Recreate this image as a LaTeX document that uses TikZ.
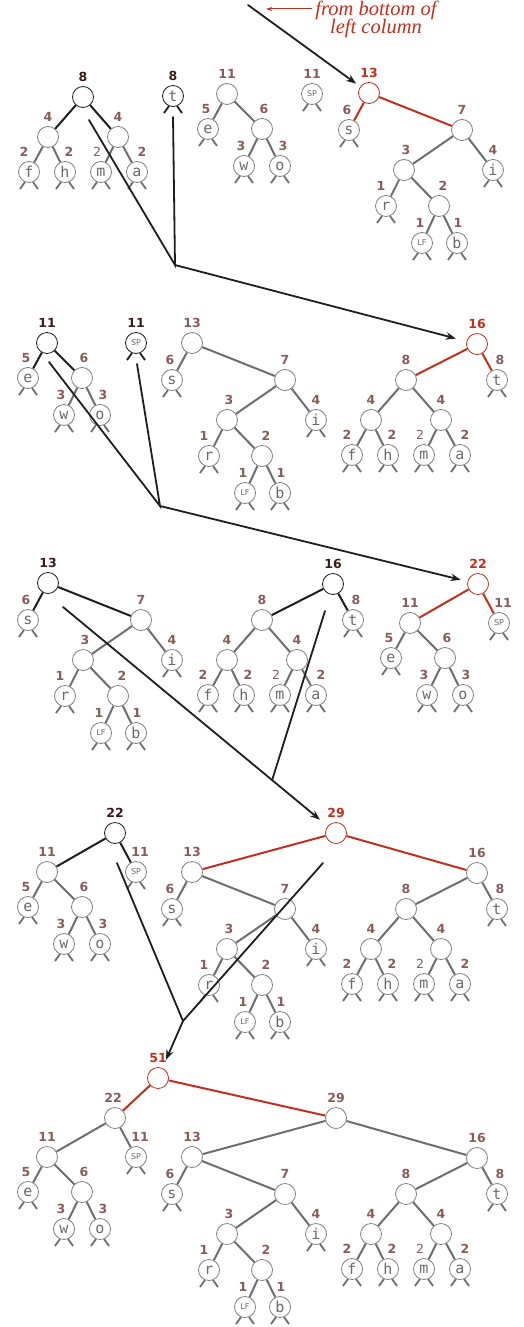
\documentclass[tikz,border=0pt]{standalone}
\usepackage{fontspec}
\setmainfont{Liberation Serif}
\newfontfamily\monof{DejaVu Sans Mono}
\newfontfamily\numf{DejaVu Sans}
\usetikzlibrary{arrows.meta,calc}
\definecolor{ng}{HTML}{808080}
\definecolor{eg}{HTML}{6E6E6E}
\definecolor{lg}{HTML}{6A6A6A}
\definecolor{wc}{HTML}{875C5C}
\definecolor{dk}{HTML}{3A1C1C}
\definecolor{rd}{HTML}{C0301E}
\definecolor{bk}{HTML}{1E1E1E}
\newcommand\smc{\numf\fontsize{8}{8}\selectfont}
\tikzset{
 nd/.style={circle,draw=ng,fill=white,line width=0.8pt,minimum size=21pt,inner sep=0pt,text=lg,font=\monof\fontsize{15}{15}\selectfont},
 ge/.style={draw=eg,line width=2pt},
 re/.style={draw=rd,line width=2pt},
 be/.style={draw=bk,line width=2pt},
 wl/.style={text=wc,font=\numf\bfseries\fontsize{12.5}{12.5}\selectfont,inner sep=0pt},
 wlr/.style={wl,text=rd},
 wld/.style={wl,text=dk},
 gst/.style={draw=eg,line width=1.8pt},
 bst/.style={draw=bk,line width=1.8pt},
 arr/.style={draw=bk,line width=1.8pt,line cap=round},
 tip/.style={-{Stealth[length=10pt,width=7.5pt]}},
 note/.style={text=rd,font=\itshape\fontsize{20.5}{20.5}\selectfont,inner sep=0pt,anchor=base},
}
\newcommand\W[4][wl]{\node[#1] at ([shift={(#3,-20)}]#2.center) {#4};}
\newcommand\St[2][gst]{\draw[#1] ([shift={(-4,10)}]#2.center) -- ++(-5,7);\draw[#1] ([shift={(4,10)}]#2.center) -- ++(5,7);}
\newcommand\Lf[7]{\node[nd] (#1) at ([shift={(#3,#4)}]#2.center) {#5};\St{#1}\W{#1}{#6}{#7}}
\newcommand\In[6]{\node[nd] (#1) at ([shift={(#3,#4)}]#2.center) {};\W{#1}{#5}{#6}}
\newcommand\Ed[3][ge]{\draw[#1] (#2) -- (#3);}
\newcommand\mkA[2]{%
 \In{#1L}{#1}{-35}{40}{0}{4}
 \In{#1R}{#1}{35}{40}{0}{4}
 \Lf{#1f}{#1L}{-19}{35}{f}{-5}{2}
 \Lf{#1h}{#1L}{17}{35}{h}{4}{2}
 \Lf{#1m}{#1R}{-17}{35}{m}{-4}{\mdseries 2}
 \Lf{#1a}{#1R}{19}{35}{a}{5}{2}
 \Ed[#2]{#1}{#1L}\Ed[#2]{#1}{#1R}
 \Ed{#1L}{#1f}\Ed{#1L}{#1h}\Ed{#1R}{#1m}\Ed{#1R}{#1a}}
\newcommand\mkB[2]{%
 \Lf{#1e}{#1}{-19}{35}{e}{-2}{5}
 \In{#1x}{#1}{35}{35}{2}{6}
 \Lf{#1w}{#1x}{-18}{37}{w}{-3}{3}
 \Lf{#1o}{#1x}{18}{37}{o}{3}{3}
 \Ed[#2]{#1}{#1e}\Ed[#2]{#1}{#1x}
 \Ed{#1x}{#1w}\Ed{#1x}{#1o}}
\newcommand\mkC[2]{%
 \Lf{#1s}{#1}{-20}{37}{s}{-2}{6}
 \In{#1x}{#1}{93}{37}{0}{7}
 \In{#1y}{#1x}{-58}{40}{2}{3}
 \Lf{#1i}{#1x}{31}{40}{i}{0}{4}
 \Lf{#1r}{#1y}{-18}{36}{r}{-5}{1}
 \In{#1z}{#1y}{35}{36}{4}{2}
 \Lf{#1lf}{#1z}{-17}{37}{\smc LF}{-2}{1}
 \Lf{#1b}{#1z}{18}{37}{b}{1}{1}
 \Ed[#2]{#1}{#1s}\Ed[#2]{#1}{#1x}
 \Ed{#1x}{#1y}\Ed{#1x}{#1i}\Ed{#1y}{#1r}\Ed{#1y}{#1z}\Ed{#1z}{#1lf}\Ed{#1z}{#1b}}
\newcommand\mkD[2]{%
 \In{#1x}{#1}{-71}{36}{0}{8}
 \Lf{#1t}{#1}{20}{36}{t}{3}{8}
 \mkA{#1x}{ge}
 \Ed[#2]{#1}{#1x}\Ed[#2]{#1}{#1t}}
\newcommand\mkE[2]{%
 \In{#1x}{#1}{-68}{39}{0}{11}
 \Lf{#1sp}{#1}{21}{39}{\smc SP}{4}{11}
 \mkB{#1x}{ge}
 \Ed[#2]{#1}{#1x}\Ed[#2]{#1}{#1sp}}
\newcommand\mkF[2]{%
 \In{#1p}{#1}{-144}{39}{0}{13}
 \In{#1q}{#1}{141}{40}{0}{16}
 \mkC{#1p}{ge}\mkD{#1q}{ge}
 \Ed[#2]{#1}{#1p}\Ed[#2]{#1}{#1q}}
\begin{document}
\begin{tikzpicture}[x=1pt,y=-1pt]
\fill[white] (0,0) rectangle (523,1327);
\useasboundingbox (0,0) rectangle (523,1327);
% ---------- panel 1
\node[nd,draw=bk] (PaA) at (83,97) {}; \W[wld]{PaA}{0}{8} \mkA{PaA}{be}
\node[nd,draw=bk] (Pat) at (173,96) {t}; \St[bst]{Pat} \W[wld]{Pat}{0}{8}
\node[nd] (PaB) at (227,94) {}; \W{PaB}{0}{11} \mkB{PaB}{ge}
\node[nd] (Pasp) at (312,94) {\smc SP}; \St{Pasp} \W{Pasp}{0}{11}
\node[nd,draw=rd] (PaC) at (369,93) {}; \W[wlr]{PaC}{0}{13} \mkC{PaC}{re}
% ---------- panel 2
\node[nd,draw=bk] (PbB) at (47,343) {}; \W[wld]{PbB}{0}{11} \mkB{PbB}{be}
\node[nd,draw=bk] (Pbsp) at (136,343) {\smc SP}; \St[bst]{Pbsp} \W[wld]{Pbsp}{0}{11}
\node[nd] (PbC) at (192,343) {}; \W{PbC}{0}{13} \mkC{PbC}{ge}
\node[nd,draw=rd] (PbD) at (477,344) {}; \W[wlr]{PbD}{0}{16} \mkD{PbD}{re}
% ---------- panel 3
\node[nd,draw=bk] (PcC) at (48,583) {}; \W[wld]{PcC}{0}{13} \mkC{PcC}{be}
\node[nd,draw=bk] (PcD) at (333,584) {}; \W[wld]{PcD}{0}{16} \mkD{PcD}{be}
\node[nd,draw=rd] (PcE) at (478,584) {}; \W[wlr]{PcE}{0}{22} \mkE{PcE}{re}
% ---------- panel 4
\node[nd,draw=bk] (PdE) at (115,833) {}; \W[wld]{PdE}{0}{22} \mkE{PdE}{be}
\node[nd,draw=rd] (PdF) at (336,833) {}; \W[wlr]{PdF}{0}{29} \mkF{PdF}{re}
% ---------- panel 5
\node[nd,draw=rd] (PeG) at (158,1078) {}; \W[wlr]{PeG}{0}{51}
\In{PeE}{PeG}{-43}{40}{-2}{22} \mkE{PeE}{ge}
\In{PeF}{PeG}{178}{40}{0}{29} \mkF{PeF}{ge}
\Ed[re]{PeG}{PeE}\Ed[re]{PeG}{PeF}
% ---------- note
\node[note] (n1) at (376,16) {from bottom of};
\node[note] (n2) at (376,34) {left column};
\coordinate (ra) at (312,9);
\coordinate (rb) at (266,9);
\draw[draw=rd,line width=1pt,-{Stealth[length=6pt,width=4pt]}] (ra) -- (rb);
% ---------- connectors
\coordinate (a0) at (248,5);
\draw[arr,tip,shorten >=5pt] (a0) -- (PaC);
\coordinate (s1a) at (89,120); \coordinate (s1b) at (173,117); \coordinate (c1) at (175,265);
\draw[arr] (s1a) -- (c1) -- (s1b);
\draw[arr,tip,shorten >=11pt] (c1) -- (PbD);
\coordinate (s2a) at (49,362); \coordinate (s2b) at (137,364); \coordinate (c2) at (160,506);
\draw[arr] (s2a) -- (c2) -- (s2b);
\draw[arr,tip,shorten >=7pt] (c2) -- (PcE);
\coordinate (s3a) at (63,607); \coordinate (s3b) at (325,611);
\coordinate (c3) at ($(s3a)!0.766!(PdF.center)$);
\draw[arr,tip,shorten >=10pt] (s3a) -- (PdF);
\draw[arr] (s3b) -- (c3);
\coordinate (s4a) at (117,863); \coordinate (s4b) at (323,863); \coordinate (c4) at (183,1021);
\draw[arr] (s4a) -- (c4) -- (s4b);
\draw[arr,tip,shorten >=9pt] (c4) -- (PeG);
\end{tikzpicture}
\end{document}
